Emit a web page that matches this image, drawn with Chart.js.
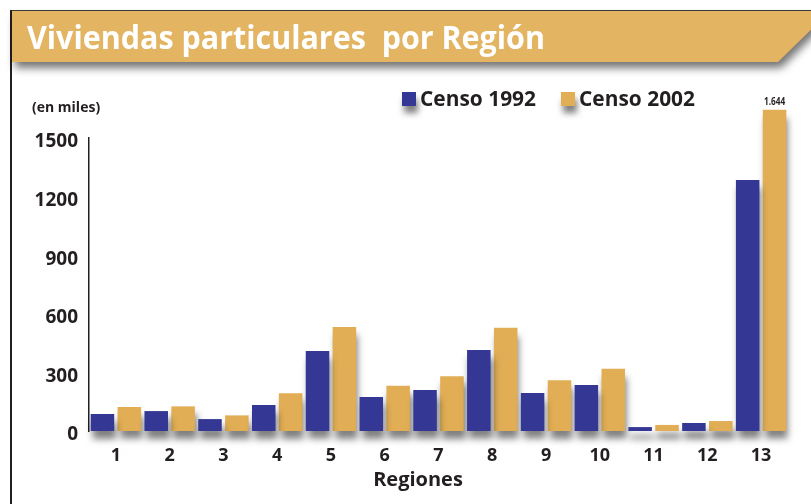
<!DOCTYPE html>
<html>
<head>
<meta charset="utf-8">
<script src="https://cdn.jsdelivr.net/npm/chart.js@4.4.1/dist/chart.umd.min.js"></script>
<style>
html, body { margin: 0; padding: 0; background: #fff; }
#wrap { width: 811px; height: 504px; position: relative; }
</style>
</head>
<body>
<div id="wrap"><canvas id="chart"></canvas></div>
<script>
const regiones = ['1', '2', '3', '4', '5', '6', '7', '8', '9', '10', '11', '12', '13'];
const censo1992 = [87, 102, 61, 133, 410, 174, 210, 415, 195, 236, 20, 41, 1285];
const censo2002 = [123, 126, 80, 193, 532, 232, 280, 529, 260, 319, 31, 51, 1644];
const yTicks = [0, 300, 600, 900, 1200, 1500];

const dark = '#231f20';
const blue = '#343894';
const gold = '#e1ae55';
const fontFam = "'Open Sans', sans-serif";

// squeeze a text horizontally so it fits a given width
function fitText(ctx, text, x, y, maxW) {
    const w = ctx.measureText(text).width;
    const k = w > maxW ? maxW / w : 1;
    ctx.save();
    ctx.translate(x, y);
    ctx.scale(k, 1);
    ctx.fillText(text, 0, 0);
    ctx.restore();
}

const decoPlugin = {
    id: 'deco',
    beforeDraw(chart) {
        const ctx = chart.ctx;
        ctx.save();
        ctx.fillStyle = '#fff';
        ctx.fillRect(0, 0, chart.width, chart.height);

        // frame
        ctx.fillStyle = '#3a3a3a';
        ctx.fillRect(10, 10, chart.width - 10, 1);
        ctx.fillStyle = dark;
        ctx.fillRect(10, 10, 2, chart.height - 10);

        // title band
        ctx.save();
        ctx.shadowColor = 'rgba(0,0,0,0.55)';
        ctx.shadowBlur = 8;
        ctx.shadowOffsetX = 3;
        ctx.shadowOffsetY = 6;
        ctx.fillStyle = '#e3b462';
        ctx.beginPath();
        ctx.moveTo(12, 11);
        ctx.lineTo(830, 11);
        ctx.lineTo(778, 62);
        ctx.lineTo(12, 62);
        ctx.closePath();
        ctx.fill();
        ctx.restore();

        ctx.fillStyle = '#fff';
        ctx.font = 'bold 32px ' + fontFam;
        ctx.textBaseline = 'alphabetic';
        ctx.textAlign = 'left';
        fitText(ctx, 'Viviendas particulares  por Región', 27, 49, 518);
        ctx.restore();
    },
    beforeDatasetsDraw(chart) {
        const ctx = chart.ctx;
        ctx.save();
        ctx.shadowColor = 'rgba(0,0,0,0.5)';
        ctx.shadowBlur = 7;
        ctx.shadowOffsetX = 2;
        ctx.shadowOffsetY = 8;
    },
    afterDatasetsDraw(chart) {
        chart.ctx.restore();
    },
    afterDraw(chart) {
        const ctx = chart.ctx;
        ctx.save();
        ctx.fillStyle = dark;

        // unit label
        ctx.font = 'bold 14px ' + fontFam;
        ctx.textAlign = 'left';
        ctx.textBaseline = 'middle';
        fitText(ctx, '(en miles)', 32, 108, 70);

        // axis title
        ctx.font = 'bold 20px ' + fontFam;
        ctx.textAlign = 'center';
        ctx.fillText('Regiones', 418, 480);

        // legend
        const legX = [402, 561];
        chart.data.datasets.forEach((ds, i) => {
            ctx.save();
            ctx.shadowColor = 'rgba(0,0,0,0.5)';
            ctx.shadowBlur = 6;
            ctx.shadowOffsetX = 2;
            ctx.shadowOffsetY = 7;
            ctx.fillStyle = ds.backgroundColor;
            ctx.fillRect(legX[i], 92, 14, 14);
            ctx.restore();
            ctx.fillStyle = dark;
            ctx.font = 'bold 21px ' + fontFam;
            ctx.textAlign = 'left';
            ctx.textBaseline = 'middle';
            fitText(ctx, ds.label, legX[i] + 18, 100, 116);
        });

        // value label over the last 2002 bar
        const meta = chart.getDatasetMeta(1);
        const last = meta.data[meta.data.length - 1];
        const v = censo2002[censo2002.length - 1];
        ctx.font = 'bold 11px ' + fontFam;
        ctx.textAlign = 'center';
        ctx.textBaseline = 'bottom';
        ctx.save();
        ctx.translate(last.x, last.y - 3);
        ctx.scale(0.75, 1);
        ctx.fillText(v.toLocaleString('es-CL'), 0, 0);
        ctx.restore();
        ctx.restore();
    }
};

new Chart(document.getElementById('chart'), {
    type: 'bar',
    data: {
        labels: regiones,
        datasets: [
            { label: 'Censo 1992', data: censo1992, backgroundColor: blue, barPercentage: 0.875, categoryPercentage: 1, clip: false },
            { label: 'Censo 2002', data: censo2002, backgroundColor: gold, barPercentage: 0.875, categoryPercentage: 1, clip: false }
        ]
    },
    options: {
        responsive: true,
        maintainAspectRatio: false,
        animation: false,
        layout: { padding: { top: 138, right: 23, bottom: 0, left: 0 } },
        plugins: { legend: { display: false }, tooltip: { enabled: false } },
        scales: {
            x: {
                grid: { display: false, drawTicks: false },
                border: { display: false },
                ticks: { padding: 14, color: dark, font: { family: fontFam, weight: 'bold', size: 18 } },
                afterFit: s => { s.height = 73; }
            },
            y: {
                min: 0,
                max: 1500,
                grid: { display: false, drawTicks: false },
                border: { display: true, color: dark, width: 1.5 },
                ticks: {
                    padding: 11,
                    labelOffset: 4,
                    color: dark,
                    font: { family: fontFam, weight: 'bold', size: 19 },
                    callback: v => String(v)
                },
                afterBuildTicks: s => { s.ticks = yTicks.map(v => ({ value: v })); },
                afterFit: s => { s.width = 89; }
            }
        }
    },
    plugins: [decoPlugin]
});
</script>
</body>
</html>
